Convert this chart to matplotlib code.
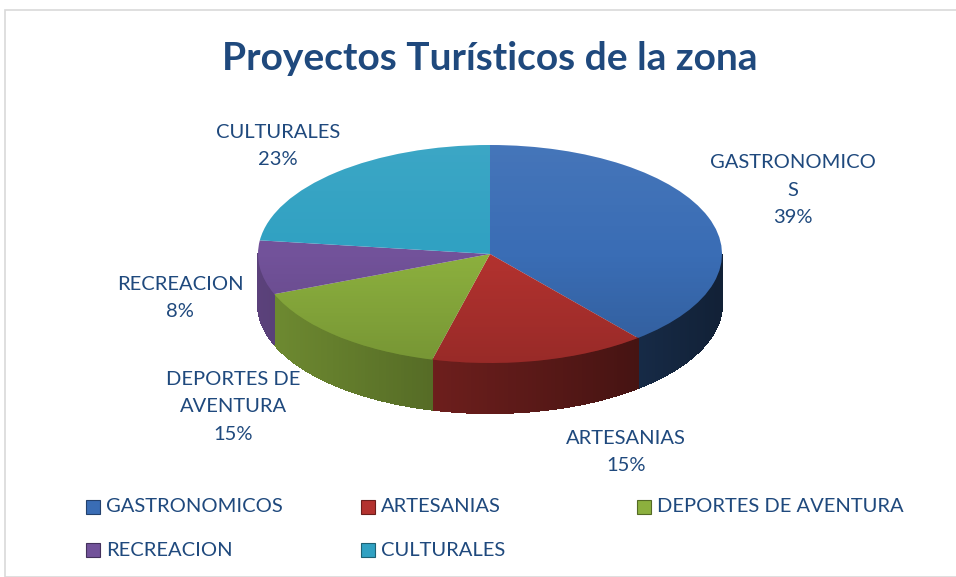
import numpy as np
import matplotlib
matplotlib.use('Agg')
import matplotlib.pyplot as plt
from matplotlib.patches import Polygon, Rectangle, Circle
from matplotlib.colors import to_rgb

categories = ['GASTRONOMICOS', 'ARTESANIAS', 'DEPORTES DE AVENTURA', 'RECREACION', 'CULTURALES']
values = [39, 15, 15, 8, 23]
slice_labels = ['GASTRONOMICO\nS\n39%', 'ARTESANIAS\n15%', 'DEPORTES DE\nAVENTURA\n15%',
                'RECREACION\n8%', 'CULTURALES\n23%']
colors = ['#3A6DB5', '#B3322F', '#8CB03E', '#72529A', '#30A1C2']

plt.rcParams['font.family'] = ['Lato', 'DejaVu Sans']
txt_color = '#1F497D'

W, H = 956, 577
fig = plt.figure(figsize=(W / 100, H / 100), dpi=100)
ax = fig.add_axes([0, 0, 1, 1])

# pie geometry in pixels (center, radii, depth)
cx, cy, rx, ry, depth = 490, 254, 232, 109, 50

wedges, _ = ax.pie(values, colors=colors, startangle=90, counterclock=False,
                   radius=1, center=(0, 0), wedgeprops=dict(linewidth=0, zorder=3))
ax.set_aspect('auto')

# light-to-dark shading on the top face
grad = np.zeros((100, 2, 4))
t = np.linspace(0, 1, 100)[:, None]
grad[..., :3] = np.where(t < 0.5, 1.0, 0.0)[..., None] * np.ones((1, 2, 3))
grad[..., 3] = np.where(t < 0.5, (0.5 - t) * 0.12, (t - 0.5) * 0.3)[:, 0:1]
img = ax.imshow(grad, extent=(-1, 1, -1, 1), origin='upper', aspect='auto', zorder=4,
                interpolation='bilinear')
img.set_clip_path(Circle((0, 0), 1, transform=ax.transData))
ax.set_xlim(-cx / rx, (W - cx) / rx)
ax.set_ylim(-(H - cy) / ry, cy / ry)
ax.axis('off')

# side wall of the 3d pie (front half only)
d = depth / ry
for w, c in zip(wedges, colors):
    base = np.array(to_rgb(c))
    th = np.arange(w.theta1, w.theta2 + 0.01, 1.0)
    if th[-1] < w.theta2:
        th = np.append(th, w.theta2)
    for a, b in zip(th[:-1], th[1:]):
        mid = np.radians((a + b) / 2)
        if np.sin(mid) >= 0:
            continue
        ra, rb = np.radians(a), np.radians(b)
        pts = [(np.cos(ra), np.sin(ra)), (np.cos(rb), np.sin(rb)),
               (np.cos(rb), np.sin(rb) - d), (np.cos(ra), np.sin(ra) - d)]
        f = 0.55 - 0.25 * np.cos(mid)
        col = np.clip(base * f, 0, 1)
        ax.add_patch(Polygon(pts, closed=True, facecolor=col, edgecolor=col,
                             linewidth=0.8, antialiased=False, zorder=1))

# slice labels
label_pos = [(793, 190), (626, 452), (233, 407), (180, 298), (278, 146)]
for s, (x, y) in zip(slice_labels, label_pos):
    fig.text(x / W, 1 - y / H, s, ha='center', va='center', fontsize=14.5,
             color=txt_color, linespacing=1.75)

fig.text(490 / W, 1 - 58 / H, 'Proyectos Turísticos de la zona', ha='center', va='center',
         fontsize=28, fontweight='bold', color=txt_color)

# legend
leg_pos = [(86, 507), (361, 507), (637, 507), (86, 550), (361, 550)]
for name, c, (x, y) in zip(categories, colors, leg_pos):
    fig.patches.append(Rectangle((x / W, 1 - (y + 7) / H), 14 / W, 14 / H,
                                 transform=fig.transFigure, facecolor=c,
                                 edgecolor=np.clip(np.array(to_rgb(c)) * 0.6, 0, 1), linewidth=0.8))
    fig.text((x + 20) / W, 1 - y / H, name, ha='left', va='center', fontsize=14.5, color=txt_color)

# chart border
fig.patches.append(Rectangle((5 / W, 0), 1, 1 - 10 / H, transform=fig.transFigure,
                             fill=False, edgecolor='#D9D9D9', linewidth=1.2))

fig.savefig('out.png', dpi=100)
